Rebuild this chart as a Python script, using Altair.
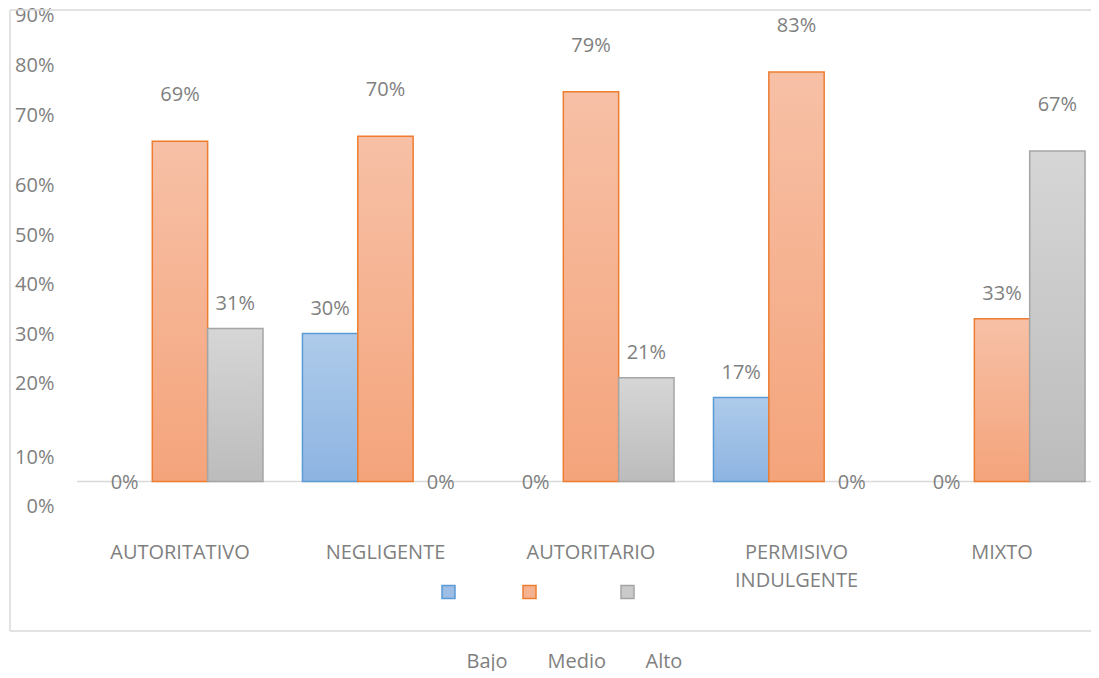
import json
import altair as alt
import pandas as pd

categorias = ["AUTORITATIVO", "NEGLIGENTE", "AUTORITARIO", "PERMISIVO INDULGENTE", "MIXTO"]
niveles = ["Bajo", "Medio", "Alto"]
bajo = [0, 30, 0, 17, 0]
medio = [69, 70, 79, 83, 33]
alto = [31, 0, 21, 0, 67]
y_tick_labels = ["0%", "10%", "20%", "30%", "40%", "50%", "60%", "70%", "80%", "90%"]
# where the (misplaced) tick labels sit, in value units of the bar scale
y_tick_pos = [-5.1, 4.9, 19.9, 29.8, 40.0, 49.9, 60.0, 74.2, 84.4, 94.5]

rows = []
for i, c in enumerate(categorias):
    for n, serie in zip(niveles, [bajo, medio, alto]):
        rows.append({"categoria": c, "nivel": n, "etiqueta": n, "valor": serie[i]})
df = pd.DataFrame(rows)

FONT = "Open Sans"
GRAY = "#7f7f7f"
FRAME = "#d9d9d9"
W, H = 1014, 503

fills = {"Bajo": "#9dbde5", "Medio": "#f5b290", "Alto": "#cacaca"}
strokes = {"Bajo": "#5b9bd5", "Medio": "#ed7d31", "Alto": "#a5a5a5"}
grads = {
    "Bajo": ["#aecbea", "#8db4e2"],
    "Medio": ["#f7c0a6", "#f4a47b"],
    "Alto": ["#d6d6d6", "#bcbcbc"],
}

x_enc = alt.X(
    "categoria:N",
    sort=categorias,
    scale=alt.Scale(paddingInner=0.192, paddingOuter=0.063, align=0.77),
    axis=alt.Axis(
        title=None, domain=False, ticks=False, labelAngle=0,
        labelFont=FONT, labelFontSize=20, labelColor=GRAY,
        labelPadding=31, labelBaseline="top", labelLineHeight=28,
        labelExpr="split(datum.label, ' ')[0] == 'PERMISIVO' ? split(datum.label, ' ') : datum.label",
    ),
)
xoff_enc = alt.XOffset("nivel:N", sort=niveles, scale=alt.Scale(domain=niveles, paddingInner=0, paddingOuter=0))
y_scale = alt.Scale(domain=[-6, 96], nice=False, zero=False)
label_expr = f"{json.dumps(y_tick_labels)}[indexof({json.dumps(y_tick_pos)}, datum.value)]"
y_enc = alt.Y(
    "valor:Q",
    scale=y_scale,
    axis=alt.Axis(
        title=None, domain=False, ticks=False, grid=False,
        values=y_tick_pos, labelExpr=label_expr,
        labelFont=FONT, labelFontSize=20, labelColor=GRAY, labelPadding=23,
    ),
)

base = alt.Chart(df)
one = pd.DataFrame({"k": [0]})

# outer frame of the chart area (left, top and bottom edges)
frame_left = alt.Chart(one).mark_rule(color=FRAME, strokeWidth=1.5).encode(
    x=alt.value(-67), y=alt.value(2), y2=alt.value(623)
)
frame_top = alt.Chart(one).mark_rule(color=FRAME, strokeWidth=1.5).encode(
    x=alt.value(-67), x2=alt.value(W + 60), y=alt.value(2)
)
frame_bottom = alt.Chart(one).mark_rule(color=FRAME, strokeWidth=1.5).encode(
    x=alt.value(-67), x2=alt.value(W + 60), y=alt.value(623)
)

baseline = alt.Chart(one).mark_rule(color=FRAME, strokeWidth=1.5).encode(
    y=alt.datum(0, scale=y_scale), x=alt.value(0), x2=alt.value(W + 60)
)

bar_layers = []
for n in niveles:
    g = {
        "gradient": "linear", "x1": 0, "y1": 0, "x2": 0, "y2": 1,
        "stops": [{"offset": 0, "color": grads[n][0]}, {"offset": 1, "color": grads[n][1]}],
    }
    bar_layers.append(
        base.transform_filter(f"datum.nivel === '{n}' && datum.valor > 0")
        .mark_bar(fill=g, stroke=strokes[n], strokeWidth=1.5)
        .encode(x=x_enc, xOffset=xoff_enc, y=y_enc)
    )

labels = base.transform_calculate(
    pos="datum.valor == 0 ? -0.3 : (datum.valor < 50 ? datum.valor + 5.0 : datum.valor + 9.3)",
    txt="datum.valor + '%'",
).mark_text(font=FONT, fontSize=20, color=GRAY, baseline="middle").encode(
    x=x_enc, xOffset=xoff_enc, y=alt.Y("pos:Q", scale=y_scale), text="txt:N"
)

leg_common = dict(
    title=None, orient="none", direction="horizontal", padding=0,
    labelFont=FONT, labelFontSize=20, labelOffset=8, columnPadding=11,
    symbolType="square", symbolSize=169, symbolStrokeWidth=1.5,
    legendX=361.5,
)
leg_sym = alt.Legend(legendY=574, labelColor="transparent", symbolOpacity=1, **leg_common)
leg_lbl = alt.Legend(legendY=644, labelColor=GRAY, symbolOpacity=0, **leg_common)

legend_src = base.mark_point(filled=True, opacity=0).encode(
    x=x_enc, xOffset=xoff_enc, y=y_enc,
    color=alt.Color("nivel:N", sort=niveles,
                    scale=alt.Scale(domain=niveles, range=[fills[n] for n in niveles]),
                    legend=leg_sym),
    stroke=alt.Stroke("nivel:N", sort=niveles,
                      scale=alt.Scale(domain=niveles, range=[strokes[n] for n in niveles]),
                      legend=leg_sym),
    shape=alt.Shape("etiqueta:N", sort=niveles,
                    scale=alt.Scale(range=["square", "square", "square"]),
                    legend=leg_lbl),
)

chart = alt.layer(
    frame_left, frame_top, frame_bottom, baseline, *bar_layers, labels, legend_src
).properties(
    width=W, height=H,
    autosize=alt.AutoSizeParams(type="none"),
    padding={"left": 69, "top": 0, "right": 0, "bottom": 160},
    background="white",
).configure_view(stroke=None)

chart.save("out.html", embed_options={"renderer": "svg", "actions": False})
